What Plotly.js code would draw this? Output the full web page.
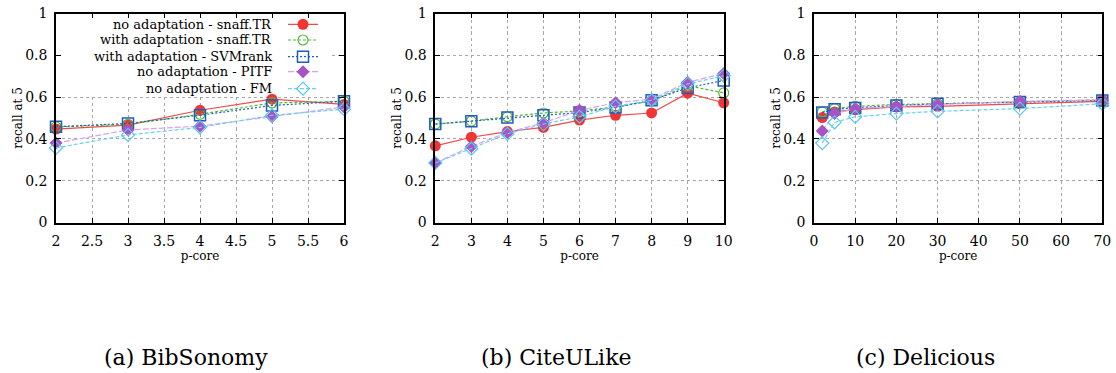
<!DOCTYPE html>
<html>
<head>
<meta charset="utf-8">
<script src="https://cdn.plot.ly/plotly-3.0.1.min.js"></script>
<style>html,body{margin:0;padding:0;background:#fff;}#chart{width:1116px;height:373px;}</style>
</head>
<body>
<div id="chart"></div>
<script>
// ---- data ----
const seriesNames = [
  "no adaptation - snaff.TR",
  "with adaptation - snaff.TR",
  "with adaptation - SVMrank",
  "no adaptation - PITF",
  "no adaptation - FM"
];
const captions = ["(a) BibSonomy", "(b) CiteULike", "(c) Delicious"];

const bibX = [2, 3, 4, 5, 6];
const bibNoAdaptSnaff   = [0.447, 0.466, 0.537, 0.590, 0.565];
const bibAdaptSnaff     = [0.457, 0.470, 0.518, 0.572, 0.580];
const bibAdaptSVM       = [0.458, 0.474, 0.513, 0.560, 0.580];
const bibPITF           = [0.380, 0.443, 0.461, 0.506, 0.553];
const bibFM             = [0.357, 0.419, 0.455, 0.513, 0.542];

const citeX = [2, 3, 4, 5, 6, 7, 8, 9, 10];
const citeNoAdaptSnaff  = [0.367, 0.408, 0.435, 0.455, 0.490, 0.513, 0.524, 0.619, 0.573];
const citeAdaptSnaff    = [0.471, 0.485, 0.506, 0.524, 0.534, 0.553, 0.581, 0.655, 0.620];
const citeAdaptSVM      = [0.471, 0.485, 0.502, 0.513, 0.526, 0.550, 0.585, 0.644, 0.680];
const citePITF          = [0.285, 0.364, 0.431, 0.477, 0.537, 0.573, 0.590, 0.671, 0.713];
const citeFM            = [0.285, 0.353, 0.424, 0.471, 0.506, 0.556, 0.585, 0.663, 0.702];

const delX = [2, 5, 10, 20, 30, 50, 70];
const delNoAdaptSnaff   = [0.502, 0.529, 0.540, 0.553, 0.556, 0.568, 0.580];
const delAdaptSnaff     = [0.529, 0.545, 0.556, 0.565, 0.568, 0.578, 0.587];
const delAdaptSVM       = [0.526, 0.542, 0.548, 0.560, 0.568, 0.576, 0.584];
const delPITF           = [0.438, 0.521, 0.545, 0.556, 0.564, 0.580, 0.587];
const delFM             = [0.380, 0.479, 0.506, 0.521, 0.532, 0.545, 0.568];

// ---- styles ----
const styles = [
  {line:{color:'#f04a4a', width:1.2, dash:'solid'}, marker:{symbol:'circle', size:11, color:'#f03535', line:{width:0}}},
  {line:{color:'#55b83a', width:1.2, dash:'3px,2px'}, marker:{symbol:'circle-open', size:10, color:'#55b83a', line:{width:1.2}}},
  {line:{color:'#2060c0', width:1.2, dash:'2px,2px'}, marker:{symbol:'square-open', size:11, color:'#1f5cbf', line:{width:1.5}}},
  {line:{color:'#d9a3ea', width:1.2, dash:'6px,2px'}, marker:{symbol:'diamond', size:10, color:'#a852c8', line:{width:0}}},
  {line:{color:'#6ad0f0', width:1.2, dash:'4px,2px'}, marker:{symbol:'diamond-open', size:10, color:'#55c8f0', line:{width:1.2}}}
];

const panels = [
  {x: bibX, ys: [bibNoAdaptSnaff, bibAdaptSnaff, bibAdaptSVM, bibPITF, bibFM], xa:'x', ya:'y'},
  {x: citeX, ys: [citeNoAdaptSnaff, citeAdaptSnaff, citeAdaptSVM, citePITF, citeFM], xa:'x2', ya:'y2'},
  {x: delX, ys: [delNoAdaptSnaff, delAdaptSnaff, delAdaptSVM, delPITF, delFM], xa:'x3', ya:'y3'}
];

const legendIds = ['legend', 'legend2', 'legend3', 'legend4', 'legend5'];
const traces = [];
panels.forEach((p, pi) => {
  p.ys.forEach((ys, si) => {
    const t = {
      type: 'scatter', mode: 'lines+markers',
      x: p.x, y: ys, name: seriesNames[si],
      xaxis: p.xa, yaxis: p.ya,
      line: styles[si].line, marker: styles[si].marker,
      showlegend: pi === 0,
      cliponaxis: false
    };
    if (pi === 0) t.legend = legendIds[si];
    traces.push(t);
  });
});

const W = 1116, H = 373;
const FAMILY = 'DejaVu Serif';
const tickFont = {family: FAMILY, size: 14, color: '#000'};
const titleFont = {family: FAMILY, size: 12, color: '#000'};
const keyFont = {family: FAMILY, size: 13, color: '#000'};
const capFont = {family: FAMILY, size: 22, color: '#000'};
const yDom = [1 - 222.5 / H, 1 - 13.5 / H];
const xDoms = [[56 / W, 344 / W], [435.3 / W, 723.7 / W], [814 / W, 1102.3 / W]];
const xRanges = [[2, 6], [2, 10], [0, 70]];
const xDticks = [0.5, 1, 10];

function xaxis(i) {
  return {
    domain: xDoms[i], range: xRanges[i], dtick: xDticks[i], tick0: xRanges[i][0],
    anchor: i === 0 ? 'y' : 'y' + (i + 1),
    showline: true, linecolor: '#000', linewidth: 1.5, mirror: 'allticks',
    ticks: 'inside', ticklen: 5, tickcolor: '#000', tickwidth: 1,
    showgrid: true, gridcolor: '#a8a8a8', griddash: 'dot', gridwidth: 1,
    zeroline: false, tickfont: tickFont, ticklabelstandoff: 5,
    title: {text: 'p-core', font: titleFont, standoff: 0}
  };
}
function yaxis(i) {
  return {
    domain: yDom, range: [0, 1], dtick: 0.2, tick0: 0,
    anchor: i === 0 ? 'x' : 'x' + (i + 1),
    showline: true, linecolor: '#000', linewidth: 1.5, mirror: 'allticks',
    ticks: 'inside', ticklen: 5, tickcolor: '#000', tickwidth: 1,
    showgrid: true, gridcolor: '#a8a8a8', griddash: 'dot', gridwidth: 1,
    zeroline: false, tickfont: tickFont, ticklabelstandoff: 4,
    title: {text: 'recall at 5', font: titleFont, standoff: 0}
  };
}

const rowY = [24.3, 40, 56.7, 71.7, 88.7];
const annotations = [];
seriesNames.forEach((n, i) => {
  annotations.push({
    xref: 'paper', yref: 'paper', x: 274 / W, y: 1 - rowY[i] / H,
    xanchor: 'right', yanchor: 'middle', text: n, showarrow: false, font: keyFont
  });
});
const capX = [185.5, 556, 925];
captions.forEach((c, i) => {
  annotations.push({
    xref: 'paper', yref: 'paper', x: capX[i] / W, y: 1 - 357 / H,
    xanchor: 'center', yanchor: 'middle', text: c, showarrow: false,
    font: capFont
  });
});

const layout = {
  width: W, height: H,
  margin: {l: 0, r: 0, t: 0, b: 0, pad: 0},
  paper_bgcolor: '#fff', plot_bgcolor: '#fff',
  font: tickFont,
  xaxis: xaxis(0), xaxis2: xaxis(1), xaxis3: xaxis(2),
  yaxis: yaxis(0), yaxis2: yaxis(1), yaxis3: yaxis(2),
  annotations: annotations,
  shapes: [{
    type: 'rect', xref: 'x', yref: 'y', layer: 'between',
    x0: 2.01, x1: 2 + (330 - 56) / 72, y0: (222.5 - 95) / 209, y1: 0.995,
    fillcolor: '#fff', line: {width: 0}
  }]
};
legendIds.forEach((id, i) => {
  layout[id] = {
    x: 283 / W, y: 1 - rowY[i] / H, xanchor: 'left', yanchor: 'middle',
    bgcolor: 'rgba(0,0,0,0)', borderwidth: 0,
    font: {family: FAMILY, size: 1, color: 'rgba(0,0,0,0)'},
    itemclick: false, itemdoubleclick: false
  };
});

Plotly.newPlot('chart', traces, layout, {displayModeBar: false});
</script>
</body>
</html>
